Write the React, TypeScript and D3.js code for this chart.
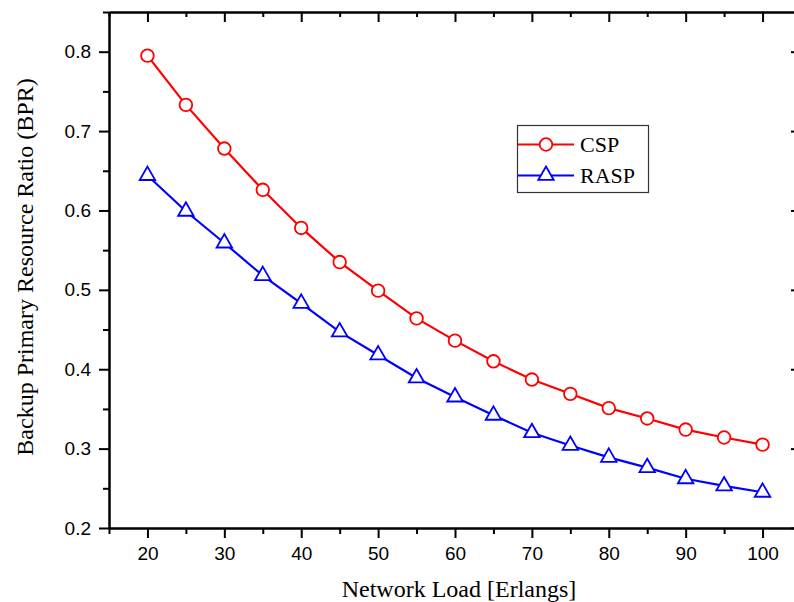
import React, { useEffect, useRef } from 'react';
import * as d3 from 'd3';

const loads = [20, 25, 30, 35, 40, 45, 50, 55, 60, 65, 70, 75, 80, 85, 90, 95, 100];
const cspValues = [0.795, 0.733, 0.678, 0.626, 0.578, 0.535, 0.499, 0.464, 0.436, 0.41, 0.387, 0.369, 0.351, 0.338, 0.324, 0.314, 0.305];
const raspValues = [0.644, 0.599, 0.559, 0.518, 0.483, 0.447, 0.418, 0.389, 0.365, 0.342, 0.32, 0.304, 0.289, 0.276, 0.262, 0.253, 0.245];
const xMajor = [20, 30, 40, 50, 60, 70, 80, 90, 100];
const xMinor = [15, 25, 35, 45, 55, 65, 75, 85, 95, 105];
const yMajor = [0.2, 0.3, 0.4, 0.5, 0.6, 0.7, 0.8];
const yMinor = [0.25, 0.35, 0.45, 0.55, 0.65, 0.75, 0.85];
const seriesNames = ['CSP', 'RASP'];

const SANS = "'Liberation Sans', Arial, sans-serif";
const SERIF = "'Liberation Serif', 'Times New Roman', serif";

const App = () => {
  const svgRef = useRef<SVGSVGElement>(null);

  useEffect(() => {
    const left = 109, right = 801, top = 12, bottom = 528;
    const svg = d3.select(svgRef.current);
    svg.selectAll('*').remove();

    const x = d3.scaleLinear().domain([15, 105]).range([left, right]);
    const y = d3.scaleLinear().domain([0.2, 0.85]).range([bottom, top]);

    const styleAxis = (g) => {
      g.select('.domain').attr('stroke', '#000').attr('stroke-width', 2);
      g.selectAll('.tick line').attr('stroke', '#000').attr('stroke-width', 2);
      g.selectAll('.tick text').attr('fill', '#000');
    };

    // bottom axis: outward ticks with labels
    svg.append('g')
      .attr('transform', `translate(0,${bottom})`)
      .call(d3.axisBottom(x).tickValues(xMajor).tickSize(10).tickSizeOuter(0).tickPadding(9).tickFormat(d3.format('d')))
      .call(styleAxis)
      .call(g => g.selectAll('text').style('font-family', SANS).style('font-size', '19px'));
    svg.append('g')
      .attr('transform', `translate(0,${bottom})`)
      .call(d3.axisBottom(x).tickValues(xMinor).tickSize(6).tickSizeOuter(0).tickFormat(() => ''))
      .call(styleAxis);

    // top axis: inward ticks
    svg.append('g')
      .attr('transform', `translate(0,${top})`)
      .call(d3.axisTop(x).tickValues(xMajor).tickSize(-10).tickSizeOuter(0).tickFormat(() => ''))
      .call(styleAxis);
    svg.append('g')
      .attr('transform', `translate(0,${top})`)
      .call(d3.axisTop(x).tickValues(xMinor).tickSize(-5).tickSizeOuter(0).tickFormat(() => ''))
      .call(styleAxis);

    // left axis
    svg.append('g')
      .attr('transform', `translate(${left},0)`)
      .call(d3.axisLeft(y).tickValues(yMajor).tickSize(10).tickSizeOuter(0).tickPadding(8).tickFormat(d3.format('.1f')))
      .call(styleAxis)
      .call(g => g.selectAll('text').style('font-family', SANS).style('font-size', '19px'));
    svg.append('g')
      .attr('transform', `translate(${left},0)`)
      .call(d3.axisLeft(y).tickValues(yMinor).tickSize(6).tickSizeOuter(0).tickFormat(() => ''))
      .call(styleAxis);

    // right axis
    svg.append('g')
      .attr('transform', `translate(${right},0)`)
      .call(d3.axisRight(y).tickValues(yMajor).tickSize(-10).tickSizeOuter(0).tickFormat(() => ''))
      .call(styleAxis);
    svg.append('g')
      .attr('transform', `translate(${right},0)`)
      .call(d3.axisRight(y).tickValues(yMinor).tickSize(-5).tickSizeOuter(0).tickFormat(() => ''))
      .call(styleAxis);

    // axis titles
    svg.append('text')
      .attr('x', 459)
      .attr('y', 597)
      .attr('text-anchor', 'middle')
      .style('font-family', SERIF)
      .style('font-size', '24px')
      .text('Network Load [Erlangs]');
    svg.append('text')
      .attr('transform', 'translate(33,267) rotate(-90)')
      .attr('text-anchor', 'middle')
      .style('font-family', SERIF)
      .style('font-size', '24px')
      .text('Backup Primary Resource Ratio (BPR)');

    const line = d3.line<number>()
      .x((d, i) => x(loads[i]))
      .y(d => y(d));

    const triangle = d3.symbol().type(d3.symbolTriangle).size(104);

    const series = [
      { name: seriesNames[0], values: cspValues, color: '#ff0000', marker: 'circle' },
      { name: seriesNames[1], values: raspValues, color: '#0000ff', marker: 'triangle' },
    ];

    const drawMarker = (g, kind, color, cx, cy) => {
      if (kind === 'circle') {
        g.append('circle')
          .attr('cx', cx).attr('cy', cy).attr('r', 6.3)
          .attr('fill', '#fff').attr('stroke', color).attr('stroke-width', 1.8);
      } else {
        g.append('path')
          .attr('d', triangle())
          .attr('transform', `translate(${cx},${cy})`)
          .attr('fill', '#fff').attr('stroke', color).attr('stroke-width', 1.8);
      }
    };

    series.forEach(s => {
      svg.append('path')
        .datum(s.values)
        .attr('fill', 'none')
        .attr('stroke', s.color)
        .attr('stroke-width', 2.2)
        .attr('d', line);
      const g = svg.append('g');
      s.values.forEach((v, i) => drawMarker(g, s.marker, s.color, x(loads[i]), y(v)));
    });

    // legend
    const legend = svg.append('g');
    legend.append('rect')
      .attr('x', 517.5).attr('y', 125.5)
      .attr('width', 131).attr('height', 67)
      .attr('fill', '#fff').attr('stroke', '#333').attr('stroke-width', 1.2);
    series.forEach((s, i) => {
      const ly = 144.5 + i * 31;
      legend.append('line')
        .attr('x1', 518).attr('x2', 574)
        .attr('y1', ly).attr('y2', ly)
        .attr('stroke', s.color).attr('stroke-width', 2.2);
      drawMarker(legend, s.marker, s.color, 546, ly);
      legend.append('text')
        .attr('x', 580)
        .attr('y', ly + 7.5)
        .style('font-family', SERIF)
        .style('font-size', '22px')
        .text(s.name);
    });
  }, []);

  return (
    <svg ref={svgRef} width={794} height={602}
      style={{ position: 'absolute', left: 0, top: 0, background: '#fff' }}></svg>
  );
};

export default App;
